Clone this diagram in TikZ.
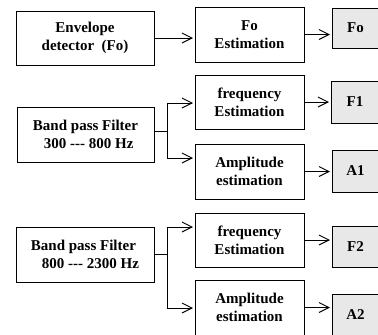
\documentclass[tikz,border=0pt]{standalone}
\usepackage{fontspec}
\newfontfamily\tnr{Liberation Serif}
\usetikzlibrary{arrows.meta}
\tikzset{
  box/.style={draw=black, line width=1pt, inner sep=0pt, align=center,
    font=\tnr\bfseries\fontsize{15}{18}\selectfont},
  outbox/.style={box, fill=gray!18},
  arr/.style={line width=0.9pt, -{Straight Barb[length=10pt,width=10pt,line width=0.9pt]}, shorten >=1.5pt}
}
\begin{document}
\begin{tikzpicture}[x=1pt,y=-1pt]
\useasboundingbox (0,0) rectangle (378,335);
\clip (0,0) rectangle (378,335);
% column 1
\node[box, minimum width=138pt, minimum height=54pt] (env) at (85,38) {Envelope\\detector\ \ (Fo)};
\node[box, minimum width=137pt, minimum height=55pt, align=left] (bpf1) at (85.5,134.5) {Band pass Filter\\\hspace{11pt}300 {-}{-}{-} 800 Hz};
\node[box, minimum width=138pt, minimum height=55pt, align=left] (bpf2) at (85,254.5) {Band pass Filter\\\hspace{11pt}800 {-}{-}{-} 2300 Hz};
% column 2
\node[box, minimum width=109pt, minimum height=55pt] (foest) at (249.5,34.5) {Fo\\Estimation};
\node[box, minimum width=109pt, minimum height=54pt] (f1est) at (249.5,102) {frequency\\Estimation};
\node[box, minimum width=109pt, minimum height=55pt] (a1est) at (249.5,171.5) {Amplitude\\estimation};
\node[box, minimum width=109pt, minimum height=54pt] (f2est) at (249.5,240) {frequency\\Estimation};
\node[box, minimum width=109pt, minimum height=55pt] (a2est) at (249.5,307.5) {Amplitude\\estimation};
% column 3
\node[outbox, minimum width=47pt, minimum height=40pt] (fo) at (355.5,28) {Fo};
\node[outbox, minimum width=48pt, minimum height=42pt] (f1) at (355,102) {F1};
\node[outbox, minimum width=47pt, minimum height=42pt] (a1) at (355.5,171) {A1};
\node[outbox, minimum width=47pt, minimum height=41pt] (f2) at (355.5,246.5) {F2};
\node[outbox, minimum width=47pt, minimum height=42pt] (a2) at (355.5,315) {A2};
% junction points
\coordinate (j1) at (167,131);
\coordinate (t1) at (167,103);
\coordinate (b1) at (167,158);
\coordinate (j2) at (167,254.5);
\coordinate (t2) at (167,227);
\coordinate (b2) at (167,308);
% connectors
\draw[arr] (env.east) -- (env.east -| foest.west);
\draw[arr] (foest.east) -- (foest.east -| fo.west);
\draw[arr] (f1est.east) -- (f1est.east -| f1.west);
\draw[arr] (a1est.east) -- (a1est.east -| a1.west);
\draw[arr] (f2est.east) -- (f2est.east -| f2.west);
\draw[arr] (a2est.east) -- (a2est.east -| a2.west);
\draw[line width=0.9pt] (j1 -| bpf1.east) -- (j1);
\draw[arr] (j1) -- (t1) -- (t1 -| f1est.west);
\draw[arr] (j1) -- (b1) -- (b1 -| a1est.west);
\draw[line width=0.9pt] (bpf2.east) -- (j2);
\draw[arr] (j2) -- (t2) -- (t2 -| f2est.west);
\draw[arr] (j2) -- (b2) -- (b2 -| a2est.west);
\end{tikzpicture}
\end{document}
